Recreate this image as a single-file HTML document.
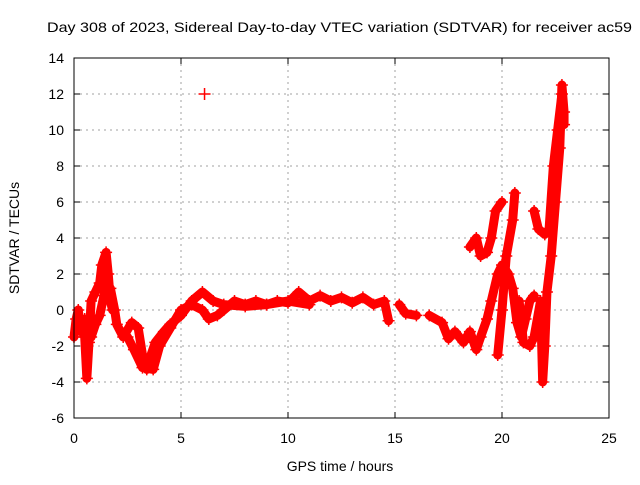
<!DOCTYPE html>
<html><head><meta charset="utf-8"><style>
body{margin:0;background:#fff}
svg text{font-family:"Liberation Sans",sans-serif;font-size:14px;fill:#000}
</style></head><body>
<svg id="chart" width="640" height="480">
<text x="47" y="32" textLength="585" lengthAdjust="spacingAndGlyphs">Day 308 of 2023, Sidereal Day-to-day VTEC variation (SDTVAR) for receiver ac59</text>
<text x="340" y="471" text-anchor="middle">GPS time / hours</text>
<text transform="translate(19,238) rotate(-90)" text-anchor="middle">SDTVAR / TECUs</text>
<g id="grid"></g><g id="ticks"></g><g id="marks"></g>
<rect x="74" y="58" width="535" height="360" fill="none" stroke="#000" stroke-width="1"/>
</svg>
<script>
const xTicks=[0,5,10,15,20,25];
const yTicks=[-6,-4,-2,0,2,4,6,8,10,12,14];
const traceA=[[0,-1.5],[0.1,-0.5],[0.2,0],[0.3,-1],[0.5,-1.5],[0.6,-3.8],[0.7,-1.8],[0.8,0.5],[1.0,1],[1.2,1.5],[1.3,2.5],[1.5,3.2],[1.6,2],[1.7,0.5],[1.8,0]];
const traceB=[[0.5,-0.5],[0.8,-1.5],[1.0,-0.8],[1.2,-0.3],[1.4,0.8],[1.5,1.5],[1.7,1.2],[1.9,0],[2.0,-0.8],[2.3,-1.5],[2.7,-0.7],[3.0,-1],[3.2,-2.5],[3.4,-3.3],[3.6,-2.5],[3.8,-1.8],[4.2,-1.2],[4.5,-0.8],[5.0,-0.3],[5.5,0.5],[6,1],[6.5,0.5],[7,0.3],[8,0.2],[9,0.3],[10,0.5],[11,0.3]];
const traceC=[[2.5,-1.5],[2.8,-2.2],[3.2,-3.2],[3.7,-3.3],[4.0,-2],[4.5,-1],[5,0],[5.5,0.3],[6,0],[6.3,-0.5],[6.7,-0.3],[7,0],[7.5,0.5],[8,0.3],[8.5,0.5],[9,0.3],[9.5,0.5],[10,0.4],[10.5,1.0],[11,0.5],[11.5,0.8],[12,0.5],[12.5,0.7],[13,0.4],[13.5,0.7],[14,0.3],[14.5,0.5],[14.7,-0.6]];
const traceD=[[15.2,0.3],[15.5,-0.2],[16,-0.3]];
const traceE=[[16.6,-0.3],[17.2,-0.7],[17.5,-1.6],[17.8,-1.2],[18.2,-1.8],[18.5,-1.2],[18.8,-2.2],[19,-1.5],[19.3,-0.5],[19.5,0.5],[19.8,2],[20,2.5],[20.3,2],[20.5,1.2],[20.7,-0.7],[20.9,-1.5],[21.1,-0.5],[21.3,0.5],[21.5,0.8]];
const traceF=[[18.5,3.5],[18.8,4.0],[19.0,3.0],[19.3,3.2],[19.5,4],[19.7,5.5],[20,6.0]];
const traceG=[[19.8,-2.5],[20.0,0],[20.2,3],[20.5,5],[20.6,6.5]];
const traceH=[[20.8,0.5],[21,-1.8],[21.3,-2],[21.5,-1.5],[21.8,0.5],[21.9,-4],[22,-2],[22.1,1],[22.3,3],[22.5,6],[22.7,9],[22.8,12.5],[22.9,11],[22.9,10.3]];
const traceI=[[21.5,5.5],[21.7,4.5],[22,4.2],[22.2,4.5],[22.4,8],[22.6,10],[22.8,12]];
const traceJ=[[6.1,12]];
const traces=[traceA,traceB,traceC,traceD,traceE,traceF,traceG,traceH,traceI,traceJ];
const NS="http://www.w3.org/2000/svg";
const X=h=>74+h*535/25, Y=v=>310-v*18;
const grid=document.getElementById('grid'),ticks=document.getElementById('ticks'),marks=document.getElementById('marks');
function mk(tag,attrs,parent){const e=document.createElementNS(NS,tag);for(const k in attrs)e.setAttribute(k,attrs[k]);parent.appendChild(e);return e;}
xTicks.forEach(t=>{const x=X(t);
 if(t>0&&t<25){const g=mk('line',{x1:x,x2:x,y1:58,y2:418,stroke:'#a0a0a0','stroke-dasharray':'2,4'},grid);
 
 }
 mk('line',{x1:x,x2:x,y1:418,y2:412,stroke:'#000'},ticks);mk('line',{x1:x,x2:x,y1:58,y2:64,stroke:'#000'},ticks);
 const l=mk('text',{x:x,y:443,'text-anchor':'middle'},ticks);l.textContent=t;
 
 });
yTicks.forEach(t=>{const y=Y(t);
 if(t>-6&&t<14){const g=mk('line',{x1:74,x2:609,y1:y,y2:y,stroke:'#a0a0a0','stroke-dasharray':'2,4'},grid);
 
 }
 mk('line',{x1:74,x2:80,y1:y,y2:y,stroke:'#000'},ticks);mk('line',{x1:609,x2:603,y1:y,y2:y,stroke:'#000'},ticks);
 const l=mk('text',{x:64,y:y+5,'text-anchor':'end'},ticks);l.textContent=t;
 
 });
traces.forEach(tr=>{
 const pts=tr.map(p=>X(p[0])+','+Y(p[1])).join(' ');
 const pl=mk('polyline',{points:pts,fill:'none',stroke:'#f00','stroke-width':9,'stroke-linejoin':'round','stroke-linecap':'round'},marks);
 
 
 tr.forEach(p=>{const x=X(p[0]),y=Y(p[1]);
  const m=mk('path',{d:`M${x-6},${y}H${x+6}M${x},${y-6}V${y+6}`,stroke:'#f00','stroke-width':1.5},marks);
  
  });
});
</script>
</body></html>
